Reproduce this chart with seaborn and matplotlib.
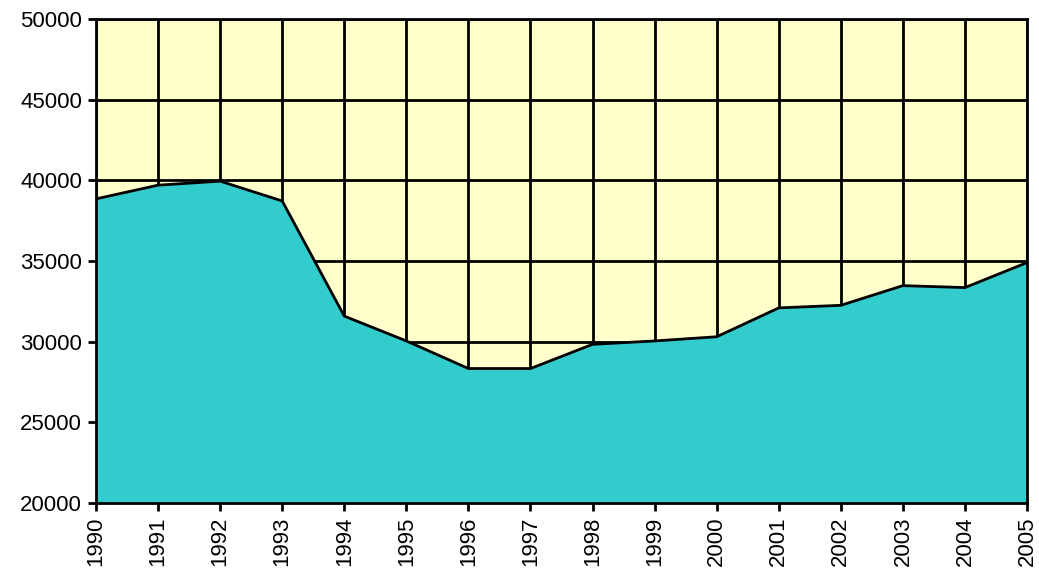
import numpy as np
import matplotlib
matplotlib.use("Agg")
import matplotlib.pyplot as plt
import seaborn as sns
import pandas as pd

years = list(range(1990, 2006))
values = [38850, 39700, 39950, 38720, 31580, 30040, 28330, 28330,
          29830, 30040, 30300, 32090, 32250, 33470, 33350, 34900]

df = pd.DataFrame({"year": years, "value": values})

sns.set_style("ticks")
plt.rcParams['font.family'] = ['Liberation Sans', 'DejaVu Sans']

fig = plt.figure(figsize=(10.39, 5.78), dpi=100)
ax = fig.add_axes([0.0924, 0.130, 0.8961, 0.837])
ax.set_facecolor("#FFFFCC")

ax.fill_between(df["year"], df["value"], 20000, color="#33CCCC", zorder=2, linewidth=0)
sns.lineplot(data=df, x="year", y="value", color="black", linewidth=2, ax=ax, zorder=3)

ax.set_xlim(1990, 2005)
ax.set_ylim(20000, 50000)
ax.set_xticks(years)
ax.set_xticklabels([str(y) for y in years], rotation=90, fontsize=16, color="black")
ax.set_yticks(range(20000, 50001, 5000))
ax.set_yticklabels([str(v) for v in range(20000, 50001, 5000)], fontsize=16, color="black")
ax.grid(True, color="black", linewidth=2, zorder=1)
ax.set_axisbelow(True)
ax.tick_params(direction="out", length=6, width=2, color="black", pad=4)
for s in ax.spines.values():
    s.set_linewidth(2)
    s.set_color("black")
    s.set_zorder(4)
ax.set_xlabel("")
ax.set_ylabel("")

fig.savefig("out.png", dpi=100)
